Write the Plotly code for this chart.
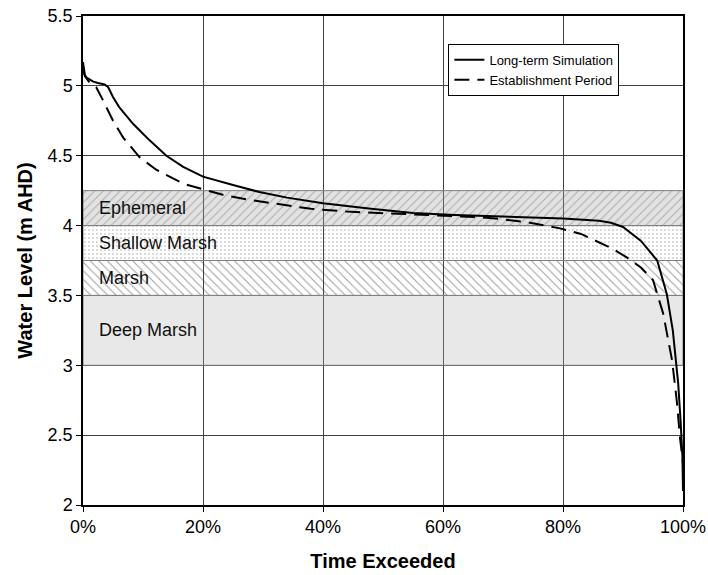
import plotly.graph_objects as go

# ---- data ----
lt_x = [0, 0.3, 0.6, 1.0, 1.7, 2.5, 3.6, 4.2, 5.0, 6.0, 8.3, 11.1, 13.9, 16.7, 20, 25, 29.4, 34, 40, 48, 55, 62, 72, 80, 86, 88, 90, 93, 95.7, 97.3, 98.3, 99.2, 99.6, 99.9, 100]
lt_y = [5.17, 5.08, 5.06, 5.05, 5.03, 5.02, 5.01, 4.99, 4.92, 4.85, 4.73, 4.61, 4.50, 4.42, 4.35, 4.29, 4.24, 4.20, 4.16, 4.12, 4.09, 4.075, 4.06, 4.05, 4.035, 4.02, 3.99, 3.89, 3.75, 3.51, 3.25, 2.87, 2.6, 2.35, 2.1]

ep_x = [0, 0.3, 1.0, 2.2, 3.3, 4.0, 5.0, 6.7, 9.4, 12.2, 14.5, 16.7, 20, 23.3, 28.3, 32.8, 38, 44, 50, 55, 60, 66, 70, 74.5, 79.5, 83, 85, 88, 90.7, 93, 95, 96.7, 98.2, 99, 99.5, 99.8, 100]
ep_y = [5.12, 5.07, 5.03, 4.99, 4.90, 4.84, 4.75, 4.63, 4.49, 4.40, 4.35, 4.30, 4.26, 4.22, 4.18, 4.15, 4.12, 4.10, 4.09, 4.08, 4.07, 4.06, 4.045, 4.02, 3.98, 3.94, 3.90, 3.84, 3.77, 3.70, 3.61, 3.37, 3.03, 2.73, 2.48, 2.35, 2.3]

band_names = ["Ephemeral", "Shallow Marsh", "Marsh", "Deep Marsh"]
band_lo = [4.0, 3.75, 3.5, 3.0]
band_hi = [4.25, 4.0, 3.75, 3.5]
label_y = [4.125, 3.875, 3.625, 3.25]

y_ticks = [2, 2.5, 3, 3.5, 4, 4.5, 5, 5.5]
x_ticks = [0, 20, 40, 60, 80, 100]
x_tick_text = ["0%", "20%", "40%", "60%", "80%", "100%"]

band_patterns = [
    dict(shape="/", bgcolor="rgba(160,160,160,0.30)", fgcolor="#707070", size=6, solidity=0.16),
    dict(shape=".", bgcolor="rgba(255,255,255,0)", fgcolor="#9a9a9a", size=4, solidity=0.18),
    dict(shape="\\", bgcolor="rgba(255,255,255,0)", fgcolor="#383838", size=6, solidity=0.16),
    None,
]

fig = go.Figure()
for name, lo, hi, pat in zip(band_names, band_lo, band_hi, band_patterns):
    kw = dict(
        x=[0, 100, 100, 0, 0], y=[lo, lo, hi, hi, lo],
        mode="lines", fill="toself",
        line=dict(color="#808080", width=1),
        showlegend=False, hoverinfo="skip",
    )
    if pat is None:
        kw["fillcolor"] = "rgba(180,180,180,0.30)"
    else:
        kw["fillpattern"] = pat
        kw["fillcolor"] = pat["bgcolor"]
    fig.add_trace(go.Scatter(**kw))

fig.add_trace(go.Scatter(x=lt_x, y=lt_y, mode="lines", name="Long-term Simulation",
                         line=dict(color="black", width=2)))
fig.add_trace(go.Scatter(x=ep_x, y=ep_y, mode="lines", name="Establishment Period",
                         line=dict(color="black", width=2, dash="15px,8px")))

for name, yy in zip(band_names, label_y):
    fig.add_annotation(x=2.3, y=yy, text=name, showarrow=False, xanchor="left",
                       yanchor="middle", font=dict(size=18, color="#111111"))

fig.update_layout(
    width=708, height=575,
    margin=dict(l=83, r=25, t=16, b=70),
    paper_bgcolor="white", plot_bgcolor="white",
    font=dict(family="Liberation Sans, Arial, sans-serif", color="black"),
    legend=dict(x=0.609, y=0.943, xanchor="left", yanchor="top",
                bordercolor="black", borderwidth=1, bgcolor="white",
                font=dict(size=13), tracegroupgap=0, itemwidth=30),
    xaxis=dict(range=[0, 100], tickvals=x_ticks, ticktext=x_tick_text,
               showgrid=True, gridcolor="#404040", gridwidth=1,
               showline=True, linecolor="black", linewidth=1.5, mirror=True,
               ticks="outside", ticklen=5, tickcolor="black",
               tickfont=dict(size=18), zeroline=False, automargin=False,
               ticklabeloverflow="allow",
               title=dict(text="<b>Time Exceeded</b>", font=dict(size=20), standoff=18)),
    yaxis=dict(range=[2, 5.5], tickvals=y_ticks,
               showgrid=True, gridcolor="#404040", gridwidth=1,
               showline=True, linecolor="black", linewidth=1.5, mirror=True,
               ticks="outside", ticklen=5, tickcolor="black",
               tickfont=dict(size=18), zeroline=False, automargin=False,
               ticklabeloverflow="allow",
               title=dict(text="<b>Water Level (m AHD)</b>", font=dict(size=20), standoff=10)),
)

fig.write_html("out.html",
               config={"displayModeBar": False},
               post_script="document.body.style.margin='0';document.body.style.overflow='hidden';")
